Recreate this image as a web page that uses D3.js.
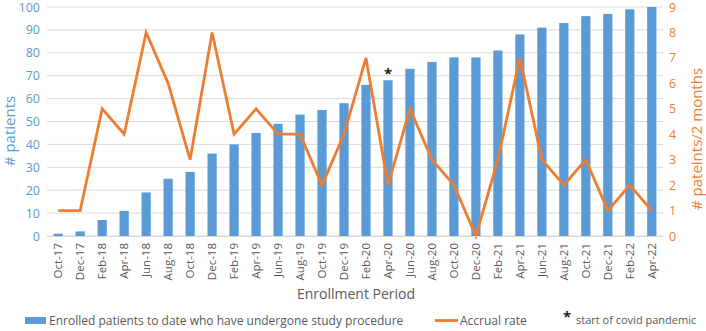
<!DOCTYPE html>
<html>
<head>
<meta charset="utf-8">
<script src="https://cdn.jsdelivr.net/npm/d3@7"></script>
<style>
  body { margin: 0; background: #fff; }
  svg { display: block; font-family: "Open Sans", sans-serif; }
</style>
</head>
<body>
<svg id="chart" width="706" height="331"></svg>
<script>
// periods on x axis
const periods = ["Oct-17","Dec-17","Feb-18","Apr-18","Jun-18","Aug-18","Oct-18","Dec-18",
  "Feb-19","Apr-19","Jun-19","Aug-19","Oct-19","Dec-19","Feb-20","Apr-20","Jun-20","Aug-20",
  "Oct-20","Dec-20","Feb-21","Apr-21","Jun-21","Aug-21","Oct-21","Dec-21","Feb-22","Apr-22"];
// cumulative enrolled patients (bars)
const enrolled = [1,2,7,11,19,25,28,36,40,45,49,53,55,58,66,68,73,76,78,78,81,88,91,93,96,97,99,100];
// accrual rate per 2 months (line)
const accrual = [1,1,5,4,8,6,3,8,4,5,4,4,2,4,7,2,5,3,2,0,3,7,3,2,3,1,2,1];
const leftTicks = [0,10,20,30,40,50,60,70,80,90,100];
const rightTicks = [0,1,2,3,4,5,6,7,8,9];
const covidStart = "Apr-20";

const blue = "#5B9BD5", orange = "#ED7D31", grey = "#595959";
const svg = d3.select("#chart");

let mLeft = 47, mRight = 663, mTop = 7, mBottom = 236;

let x = d3.scaleBand().domain(periods).range([mLeft, mRight]).paddingInner(0.58).paddingOuter(0.3);
let yL = d3.scaleLinear().domain([0, 100]).range([mBottom, mTop]);
let yR = d3.scaleLinear().domain([0, 9]).range([mBottom, mTop]);

// gridlines
svg.append("g")
  .selectAll("line").data(leftTicks).join("line")
  .attr("x1", mLeft).attr("x2", mRight)
  .attr("y1", d => yL(d)).attr("y2", d => yL(d))
  .attr("stroke", "#D9D9D9").attr("stroke-width", 1);

// bars
svg.append("g")
  .selectAll("rect").data(periods).join("rect")
  .attr("x", d => x(d))
  .attr("width", x.bandwidth())
  .attr("y", (d, i) => yL(enrolled[i]))
  .attr("height", (d, i) => mBottom - yL(enrolled[i]))
  .attr("fill", blue);

// accrual line
let line = d3.line()
  .x((d, i) => x(periods[i]) + x.bandwidth() / 2)
  .y(d => yR(d));
svg.append("path").datum(accrual)
  .attr("d", line)
  .attr("fill", "none")
  .attr("stroke", orange)
  .attr("stroke-width", 2.8)
  .attr("stroke-linejoin", "miter");

// covid asterisk
let ci = periods.indexOf(covidStart);
svg.append("text")
  .attr("x", x(covidStart) + x.bandwidth() / 2)
  .attr("y", yL(enrolled[ci]) - 1)
  .attr("text-anchor", "middle")
  .attr("font-size", 15).attr("font-weight", "bold")
  .attr("fill", "#222").text("*");

// left axis
let axL = svg.append("g").attr("transform", `translate(${mLeft - 7},0)`)
  .call(d3.axisLeft(yL).tickValues(leftTicks).tickSize(0).tickPadding(0));
axL.select(".domain").remove();
axL.selectAll("text").attr("fill", blue).attr("font-size", 12.5).attr("font-family", "Open Sans");

// right axis
let axR = svg.append("g").attr("transform", `translate(${mRight + 6},0)`)
  .call(d3.axisRight(yR).tickValues(rightTicks).tickSize(0).tickPadding(0));
axR.select(".domain").remove();
axR.selectAll("text").attr("fill", orange).attr("font-size", 12.5).attr("font-family", "Open Sans");

// x axis
let axX = svg.append("g").attr("transform", `translate(0,${mBottom})`)
  .call(d3.axisBottom(x).tickSize(0).tickPadding(0));
axX.select(".domain").attr("stroke", "#D9D9D9");
axX.selectAll("text")
  .attr("fill", grey).attr("font-size", 11.5).attr("font-family", "Open Sans")
  .attr("text-anchor", "end")
  .attr("transform", "rotate(-90)")
  .attr("dx", "-7px").attr("dy", "0.35em")
  .attr("y", 0).attr("x", 0);

// axis titles
svg.append("text")
  .attr("transform", "translate(15,131) rotate(-90)")
  .attr("text-anchor", "middle").attr("fill", blue).attr("font-size", 15)
  .text("# patients");
svg.append("text")
  .attr("transform", "translate(702,139) rotate(-90)")
  .attr("text-anchor", "middle").attr("fill", orange).attr("font-size", 15)
  .text("# pateints/2 months");
svg.append("text")
  .attr("x", 356).attr("y", 299)
  .attr("text-anchor", "middle").attr("fill", grey).attr("font-size", 14)
  .text("Enrollment Period");

// legend
let lg = svg.append("g");
lg.append("rect").attr("x", 25).attr("y", 317).attr("width", 21).attr("height", 7).attr("fill", blue);
lg.append("text").attr("x", 49).attr("y", 325).attr("fill", grey).attr("font-size", 12)
  .text("Enrolled patients to date who have undergone study procedure");
lg.append("line").attr("x1", 435).attr("x2", 458).attr("y1", 320.5).attr("y2", 320.5)
  .attr("stroke", orange).attr("stroke-width", 2.8);
lg.append("text").attr("x", 460).attr("y", 325).attr("fill", grey).attr("font-size", 12)
  .text("Accrual rate");
lg.append("text").attr("x", 567).attr("y", 322).attr("text-anchor", "middle")
  .attr("font-size", 15).attr("font-weight", "bold").attr("fill", "#222").text("*");
lg.append("text").attr("x", 576).attr("y", 324).attr("fill", grey).attr("font-size", 11)
  .text("start of covid pandemic");
</script>
</body>
</html>
